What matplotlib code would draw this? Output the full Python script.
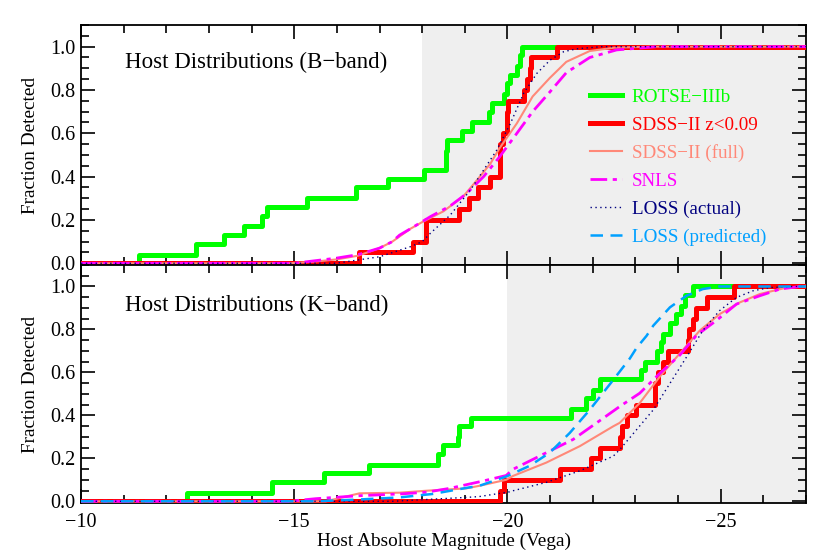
import matplotlib
matplotlib.use("Agg")
import matplotlib.pyplot as plt
from matplotlib.ticker import MultipleLocator, FormatStrFormatter

plt.rcParams['font.family'] = ['Liberation Serif', 'DejaVu Serif']
plt.rcParams['axes.unicode_minus'] = True

# ---------------- data: B-band (top panel) ----------------
rotse_b_x = [-11.36, -12.69, -13.36, -13.82, -14.25, -14.37, -15.31, -16.45, -17.19, -18.04,
             -18.55, -18.57, -18.59, -18.94, -19.17, -19.56, -19.64, -19.91, -19.99, -20.07,
             -20.22, -20.30, -20.34]
rotse_b_y = [0.04, 0.09, 0.13, 0.17, 0.22, 0.26, 0.30, 0.35, 0.39, 0.43,
             0.48, 0.52, 0.57, 0.61, 0.65, 0.70, 0.74, 0.78, 0.83, 0.87,
             0.91, 0.96, 1.00]

sdss_b_x = [-16.53, -17.78, -18.08, -18.08, -18.86, -19.09, -19.32, -19.60, -19.83, -19.83,
            -19.83, -19.90, -20.00, -20.00, -20.02, -20.38, -20.46, -20.53, -20.55, -21.16]
sdss_b_y = [0.05, 0.10, 0.15, 0.20, 0.25, 0.30, 0.35, 0.40, 0.45, 0.50,
            0.55, 0.60, 0.65, 0.70, 0.75, 0.80, 0.85, 0.90, 0.95, 1.00]

sdssfull_b_x = [-10, -14.9, -15.5, -16.0, -16.5, -17.0, -17.3, -17.73, -18.0, -18.5, -18.97,
                -19.29, -19.6, -19.81, -20.22, -20.59, -20.99, -21.38, -21.93, -22.5, -23.3, -27]
sdssfull_b_y = [0, 0, 0.008, 0.018, 0.035, 0.07, 0.10, 0.16, 0.19, 0.24, 0.31,
                0.385, 0.46, 0.53, 0.646, 0.77, 0.855, 0.93, 0.98, 0.995, 1.0, 1.0]

snls_b_x = [-10, -15.0, -16.0, -16.5, -17.0, -17.3, -17.47, -17.73, -18.19, -18.66, -19.03,
            -19.44, -19.81, -20.22, -20.59, -20.99, -21.38, -21.93, -22.56, -23.5, -27]
snls_b_y = [0, 0, 0.024, 0.04, 0.07, 0.10, 0.13, 0.16, 0.215, 0.265, 0.32,
            0.40, 0.49, 0.60, 0.70, 0.79, 0.88, 0.95, 0.985, 1.0, 1.0]

loss_b_x = [-10, -15.98, -17.0, -17.73, -18.0, -18.19, -18.66, -19.13, -19.44, -19.75,
            -20.07, -20.38, -20.69, -21.0, -21.32, -21.62, -22.2, -27]
loss_b_y = [0, 0, 0.03, 0.077, 0.10, 0.138, 0.223, 0.338, 0.43, 0.523,
            0.646, 0.785, 0.877, 0.938, 0.977, 0.99, 1.0, 1.0]

# ---------------- data: K-band (bottom panel) ----------------
rotse_k_x = [-12.49, -14.49, -15.70, -16.76, -18.37, -18.48, -18.84, -18.87, -19.15, -21.50,
             -21.85, -22.00, -22.16, -23.14, -23.22, -23.50, -23.61, -23.65, -23.81, -23.96,
             -24.08, -24.16, -24.36]
rotse_k_y = [0.04, 0.09, 0.13, 0.17, 0.22, 0.26, 0.30, 0.35, 0.39, 0.43,
             0.48, 0.52, 0.57, 0.61, 0.65, 0.70, 0.74, 0.78, 0.83, 0.87,
             0.91, 0.96, 1.00]

sdss_k_x = [-19.83, -19.91, -21.22, -21.95, -22.18, -22.63, -22.68, -22.80, -23.02, -23.45,
            -23.45, -23.53, -23.65, -23.77, -24.24, -24.26, -24.36, -24.42, -24.67, -25.30]
sdss_k_y = [0.05, 0.10, 0.15, 0.20, 0.25, 0.30, 0.35, 0.40, 0.45, 0.50,
            0.55, 0.60, 0.65, 0.70, 0.75, 0.80, 0.85, 0.90, 0.95, 1.00]

sdssfull_k_x = [-10, -15.74, -16.53, -17.47, -18.09, -19.03, -19.34, -19.97, -20.13, -20.91,
                -21.7, -22.48, -22.63, -23.1, -23.57, -24.04, -24.51, -24.98, -25.45, -25.92,
                -26.55, -27]
sdssfull_k_y = [0, 0, 0.037, 0.04, 0.049, 0.06, 0.072, 0.10, 0.118, 0.18,
                0.257, 0.349, 0.365, 0.457, 0.58, 0.688, 0.795, 0.872, 0.926, 0.965,
                0.995, 1.0]

snls_k_x = [-10, -14.88, -15.5, -16.53, -17.47, -18.09, -18.64, -19.42, -19.97, -20.13,
            -20.91, -21.54, -22.09, -22.63, -23.1, -23.57, -24.04, -24.43, -24.9, -25.37,
            -25.92, -26.39, -26.86, -27]
snls_k_y = [0, 0, 0.012, 0.026, 0.034, 0.042, 0.06, 0.094, 0.12, 0.149,
            0.226, 0.288, 0.365, 0.441, 0.503, 0.595, 0.68, 0.772, 0.842, 0.918,
            0.957, 0.988, 1.0, 1.0]

loss_k_x = [-10, -17.3, -19.03, -19.34, -20.05, -20.13, -20.91, -21.7, -22.48, -22.63,
            -23.03, -23.42, -23.81, -24.2, -24.58, -24.97, -25.37, -25.76, -26.15, -26.7, -27]
loss_k_y = [0, 0, 0.018, 0.022, 0.044, 0.049, 0.088, 0.142, 0.21, 0.24,
            0.334, 0.426, 0.549, 0.672, 0.795, 0.887, 0.949, 0.98, 0.995, 1.0, 1.0]

losspred_k_x = [-10, -15.5, -16.5, -17.47, -18.24, -19.03, -19.34, -19.97, -20.52, -20.99,
                -21.46, -21.93, -22.48, -22.87, -23.03, -23.26, -23.42, -23.81, -24.2, -24.58,
                -24.97, -27]
losspred_k_y = [0, 0, 0.008, 0.018, 0.034, 0.062, 0.072, 0.115, 0.165, 0.226,
                0.318, 0.426, 0.565, 0.665, 0.715, 0.77, 0.818, 0.903, 0.957, 0.988,
                1.0, 1.0]

labels = ["ROTSE\u2212IIIb", "SDSS\u2212II z<0.09", "SDSS\u2212II (full)", "SNLS",
          "LOSS (actual)", "LOSS (predicted)"]
panel_titles = ["Host Distributions (B\u2212band)", "Host Distributions (K\u2212band)"]
shade_start = [-18, -20]

C_GREEN = "#00ff00"
C_RED = "#ff0000"
C_SALMON = "#ff8878"
C_MAG = "#ff00ff"
C_NAVY = "#000080"
C_CYAN = "#00a0ff"

XMIN, XMAX = -10, -27
YMIN, YMAX = -0.008, 1.10


def step_xy(xs, ys):
    return [XMIN + 0.5] + list(xs) + [XMAX - 0.5], [0.0] + list(ys) + [ys[-1]]


fig = plt.figure(figsize=(8.3, 5.54), dpi=100)
L, R = 81 / 830, 806 / 830
ax1 = fig.add_axes([L, 1 - 265 / 554, R - L, 240 / 554])
ax2 = fig.add_axes([L, 1 - 503 / 554, R - L, 238 / 554])

datasets = [
    (ax1, rotse_b_x, rotse_b_y, sdss_b_x, sdss_b_y, sdssfull_b_x, sdssfull_b_y,
     snls_b_x, snls_b_y, loss_b_x, loss_b_y, None, None),
    (ax2, rotse_k_x, rotse_k_y, sdss_k_x, sdss_k_y, sdssfull_k_x, sdssfull_k_y,
     snls_k_x, snls_k_y, loss_k_x, loss_k_y, losspred_k_x, losspred_k_y),
]

for i, (ax, rx, ry, sx, sy, fx, fy, nx, ny, lx, ly, px, py) in enumerate(datasets):
    ax.axvspan(shade_start[i], XMAX, color="#efefef", zorder=0, lw=0)
    h = []
    xx, yy = step_xy(rx, ry)
    h += ax.step(xx, yy, where="post", color=C_GREEN, lw=3.6, zorder=2)
    xx, yy = step_xy(sx, sy)
    h += ax.step(xx, yy, where="post", color=C_RED, lw=3.6, zorder=3)
    h += ax.plot(fx, fy, color=C_SALMON, lw=1.5, zorder=4)
    h += ax.plot(nx, ny, color=C_MAG, lw=2.0, ls=(0, (6, 2, 1.5, 2)), zorder=5)
    h += ax.plot(lx, ly, color=C_NAVY, lw=1.0, ls=(0, (1, 2.5)), zorder=6)
    if px is not None:
        h += ax.plot(px, py, color=C_CYAN, lw=1.8, ls=(0, (5, 3)), zorder=7)
    else:
        h += ax.plot([], [], color=C_CYAN, lw=1.8, ls=(0, (5, 3)))

    ax.set_xlim(XMIN, XMAX)
    ax.set_ylim(YMIN, YMAX)
    ax.xaxis.set_major_locator(MultipleLocator(5))
    ax.xaxis.set_minor_locator(MultipleLocator(1))
    ax.yaxis.set_major_locator(MultipleLocator(0.2))
    ax.yaxis.set_minor_locator(MultipleLocator(0.05))
    ax.yaxis.set_major_formatter(FormatStrFormatter("%.1f"))
    ax.tick_params(which="both", direction="in", top=True, right=True, width=1.2,
                   labelsize=14.5, color="black")
    ax.tick_params(which="major", length=10)
    ax.tick_params(which="minor", length=5.5)
    ax.tick_params(axis="y", pad=4)
    ax.tick_params(axis="x", pad=7)
    for sp in ax.spines.values():
        sp.set_linewidth(1.3)
    ax.set_ylabel("Fraction Detected", fontsize=13.9)
    ax.yaxis.set_label_coords(-0.058, 0.5)
    ax.text(0.0607, [0.8196, 0.808][i], panel_titles[i], transform=ax.transAxes,
            fontsize=16.5, va="baseline", ha="left")

    if i == 0:
        ax.tick_params(axis="x", labelbottom=False)
        colors = [C_GREEN, C_RED, C_SALMON, C_MAG, C_NAVY, C_CYAN]
        leg = ax.legend(h, labels, loc="upper left", bbox_to_anchor=(0.702, 0.735),
                        frameon=False, fontsize=13.7, handlelength=1.66,
                        handletextpad=0.53, labelspacing=0.55, borderpad=0,
                        borderaxespad=0)
        for t, c in zip(leg.get_texts(), colors):
            t.set_color(c)

ax2.set_xlabel("Host Absolute Magnitude (Vega)", fontsize=13.9, labelpad=1)

fig.savefig("out.png", dpi=100)
